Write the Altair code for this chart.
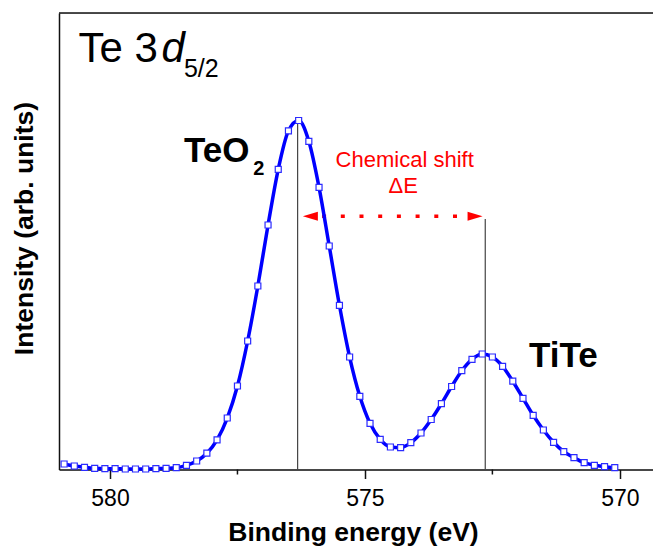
import altair as alt
import pandas as pd

# ---- data ----
energy = [580.9, 580.7, 580.5, 580.3, 580.1, 579.9, 579.7, 579.5, 579.3, 579.1,
          578.9, 578.7, 578.5, 578.3, 578.1, 577.9, 577.7, 577.5, 577.3, 577.1,
          576.9, 576.7, 576.5, 576.3, 576.1, 575.9, 575.7, 575.5, 575.3, 575.1,
          574.9, 574.7, 574.5, 574.3, 574.1, 573.9, 573.7, 573.5, 573.3, 573.1,
          572.9, 572.7, 572.5, 572.3, 572.1, 571.9, 571.7, 571.5, 571.3, 571.1,
          570.9, 570.7, 570.5, 570.3, 570.1]
intensity = [1.20, 0.77, 0.48, 0.26, 0.18, 0.18, 0.11, 0.11, 0.11, 0.18,
             0.26, 0.39, 0.92, 1.86, 3.57, 6.51, 11.28, 18.29, 28.15, 40.20,
             53.56, 65.76, 74.20, 76.45, 71.90, 61.82, 48.96, 35.97, 24.64, 16.04,
             10.12, 6.62, 4.93, 4.78, 5.87, 8.00, 10.95, 14.41, 18.18, 21.64,
             24.14, 25.30, 24.64, 22.61, 19.34, 15.60, 11.87, 8.65, 5.96, 3.90,
             2.58, 1.49, 0.92, 0.61, 0.39]

x_ticks = [580, 575, 570]
minor_ticks = [577.5, 572.5]
peak_names = ["TeO2", "TiTe"]
peak_energy = [576.32, 572.64]
peak_top = [76.45, 54.9]
shift_level = 55.5
shift_line = [575.84, 573.18]
shift_heads = [576.07, 572.84]

FONT = "Liberation Sans"
W, H = 594, 456.5

spec_df = pd.DataFrame({"E": energy, "I": intensity})
peaks_df = pd.DataFrame({"name": peak_names, "E": peak_energy, "I": [0, 0], "I2": peak_top})
shift_df = pd.DataFrame({"E": [shift_line[0]], "E2": [shift_line[1]], "I": [shift_level]})
headL_df = pd.DataFrame({"E": [shift_heads[0]], "I": [shift_level]})
headR_df = pd.DataFrame({"E": [shift_heads[1]], "I": [shift_level]})
minor_df = pd.DataFrame({"E": minor_ticks})

xscale = alt.Scale(domain=[569.35, 581.0], reverse=True, nice=False, zero=False)
yscale = alt.Scale(domain=[0, 100], nice=False, zero=False)

xaxis = alt.Axis(values=x_ticks, format="d", grid=False, tickSize=9, tickWidth=1.5,
                 tickColor="#111", domainColor="#111", domainWidth=1.5,
                 labelFont=FONT, labelFontSize=23, labelColor="#000",
                 labelBaseline="alphabetic", labelPadding=26.5,
                 title="Binding energy (eV)", titleFont=FONT, titleFontSize=26.5,
                 titleFontWeight="bold", titleColor="#000", titleX=294, titleY=70.5,
                 titleBaseline="alphabetic")
yaxis = alt.Axis(labels=False, ticks=False, grid=False, domainColor="#111", domainWidth=1.5,
                 title="Intensity (arb. units)", titleFont=FONT, titleFontSize=26.5,
                 titleFontWeight="bold", titleColor="#000", titleX=-26.5, titleY=215,
                 titleBaseline="alphabetic")

X = alt.X("E:Q", scale=xscale, axis=xaxis, title="Binding energy (eV)")
Y = alt.Y("I:Q", scale=yscale, axis=yaxis, title="Intensity (arb. units)")

vlines = alt.Chart(peaks_df).mark_rule(color="#444", strokeWidth=1.2).encode(
    x=X, y=Y, y2="I2:Q")

shift = alt.Chart(shift_df).mark_rule(color="#ff0000", strokeWidth=3.5,
                                      strokeDash=[4, 14.7]).encode(x=X, x2="E2:Q", y=Y)
headL = alt.Chart(headL_df).mark_point(shape="M-1,0L1,-0.6L1,0.6Z", filled=True,
                                       color="#ff0000", size=225, opacity=1,
                                       strokeWidth=0).encode(x=X, y=Y)
headR = alt.Chart(headR_df).mark_point(shape="M1,0L-1,-0.6L-1,0.6Z", filled=True,
                                       color="#ff0000", size=225, opacity=1,
                                       strokeWidth=0).encode(x=X, y=Y)

line = alt.Chart(spec_df).mark_line(color="#0000ff", strokeWidth=3.5,
                                    interpolate="monotone").encode(x=X, y=Y)
pts = alt.Chart(spec_df).mark_point(shape="square", filled=True, fill="white",
                                    stroke="#2b2bff", strokeWidth=1.2, size=36,
                                    opacity=1).encode(x=X, y=Y)


def txt(label, e, i, size, weight="normal", style="normal", color="#000", align="left"):
    df = pd.DataFrame({"E": [e], "I": [i], "t": [label]})
    return alt.Chart(df).mark_text(font=FONT, fontSize=size, fontWeight=weight,
                                   fontStyle=style, color=color, align=align,
                                   baseline="alphabetic").encode(x=X, y=Y, text="t:N")


texts = [
    txt("Te 3", 580.62, 89.33, 42),
    txt("d", 578.99, 89.33, 42, style="italic"),
    txt("5/2", 578.55, 85.9, 25),
    txt("TeO", 578.55, 67.43, 35, weight="bold"),
    txt("2", 577.19, 64.51, 20, weight="bold"),
    txt("TiTe", 571.78, 22.52, 35, weight="bold"),
    txt("Chemical shift", 574.22, 66.33, 22, color="#ff0000", align="center"),
    txt("ΔE", 574.25, 60.5, 22, color="#ff0000", align="center"),
]

top_frame = alt.Chart(pd.DataFrame({"a": [0]})).mark_rule(color="#111", strokeWidth=1.5).encode(
    x=alt.value(0), x2=alt.value(W), y=alt.value(0))
minor = alt.Chart(minor_df).mark_rule(color="#111", strokeWidth=1.5).encode(
    x=X, y=alt.value(H), y2=alt.value(H + 5))

chart = alt.layer(vlines, shift, headL, headR, line, pts, *texts, top_frame, minor).properties(
    width=W, height=H,
    autosize=alt.AutoSizeParams(type="none"),
    padding={"left": 51, "top": 5, "right": 0, "bottom": 77.5},
).configure_view(stroke=None).configure(background="white")

chart.save("out.html", embed_options={"renderer": "svg", "actions": False})
